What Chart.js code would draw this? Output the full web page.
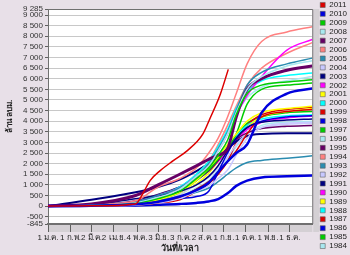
<!DOCTYPE html>
<html>
<head>
<meta charset="utf-8">
<script src="https://cdn.jsdelivr.net/npm/chart.js"></script>
<style>
html, body { margin: 0; padding: 0; background: #E8E0E8; }
#myChart { display: block; }
</style>
</head>
<body>
<canvas id="myChart" width="350" height="255"></canvas>
<script>
// day of year for each sample
var days = [0, 60, 121, 152, 182, 205, 222, 235, 248, 260, 275, 295, 330, 365];
var days_2011 = [0, 60, 121, 131, 141, 155, 173, 192, 214, 224, 238, 249];

// cumulative volume, million m3
var v2011 = [0, 10, 100, 590, 1200, 1670, 2140, 2600, 3400, 4150, 5270, 6440];
var v2010 = [0, 20, 80, 200, 450, 750, 1100, 1600, 2100, 2500, 2900, 4400, 5300, 5540];
var v2009 = [0, 30, 120, 350, 700, 1300, 1800, 2400, 3100, 4300, 5300, 5700, 5850, 5950];
var v2008 = [0, 40, 150, 400, 800, 1400, 1900, 2600, 3400, 4400, 5500, 6100, 6600, 6850];
var v2007 = [0, 100, 500, 1000, 1500, 1900, 2200, 2400, 2700, 4200, 5500, 6000, 6400, 6600];
var v2006 = [0, 60, 250, 900, 1300, 1800, 2500, 3200, 4200, 5300, 6700, 7750, 8200, 8450];
var v2005 = [0, 50, 200, 500, 850, 1400, 2000, 2700, 3500, 4500, 5700, 6300, 6700, 6970];
var v2004 = [0, 10, 40, 150, 350, 700, 950, 1300, 1700, 2400, 3200, 3700, 3900, 3950];
var v2003 = [0, 80, 350, 500, 700, 1000, 1400, 1900, 2600, 3200, 3700, 3950, 4050, 4100];
var v2002 = [0, 40, 200, 500, 850, 1400, 1900, 2600, 3400, 4300, 5200, 6100, 7350, 7850];
var v2001 = [0, 20, 100, 300, 650, 1200, 1800, 2300, 2900, 3400, 4000, 4400, 4600, 4700];
var v2000 = [0, 50, 200, 500, 900, 1500, 2100, 2800, 3600, 4600, 5400, 5900, 6150, 6270];
var v1999 = [0, 10, 60, 200, 400, 800, 1150, 1600, 2100, 2600, 3400, 4200, 4450, 4550];
var v1998 = [0, 20, 80, 200, 350, 450, 700, 1600, 2500, 3200, 3700, 4000, 4200, 4250];
var v1997 = [0, 20, 100, 300, 650, 1200, 1700, 2200, 2700, 3400, 4800, 5500, 5700, 5800];
var v1996 = [0, 30, 150, 400, 750, 1300, 1900, 2600, 3400, 4300, 5100, 5600, 5900, 6100];
var v1995 = [0, 50, 250, 550, 900, 1250, 1650, 2150, 2750, 3150, 3450, 3650, 3760, 3800];
var v1994 = [0, 30, 150, 450, 850, 1500, 2100, 2900, 3800, 4700, 5700, 6500, 7200, 7700];
var v1993 = [0, 20, 100, 250, 450, 650, 850, 1150, 1500, 1800, 2050, 2150, 2250, 2370];
var v1992 = [0, 20, 100, 300, 550, 1000, 1350, 1800, 2300, 2900, 3400, 3700, 3850, 3900];
var v1991 = [0, 300, 650, 900, 1250, 1650, 2000, 2300, 2700, 3050, 3300, 3400, 3430, 3430];
var v1990 = [0, 20, 120, 350, 700, 1200, 1650, 2100, 2600, 3100, 3600, 3950, 4150, 4240];
var v1989 = [0, 10, 80, 250, 550, 1050, 1550, 2100, 2600, 3100, 3700, 4200, 4450, 4600];
var v1988 = [0, 30, 200, 550, 900, 1450, 1900, 2400, 2850, 3300, 3800, 4100, 4250, 4300];
var v1987 = [0, 10, 50, 150, 300, 700, 1050, 1500, 2100, 3000, 3800, 4300, 4550, 4650];
var v1986 = [0, 10, 30, 60, 100, 150, 220, 330, 600, 950, 1200, 1350, 1400, 1440];
var v1985 = [0, 30, 150, 450, 850, 1300, 1750, 2200, 2750, 3300, 3900, 4200, 4400, 4450];
var v1984 = [0, 10, 50, 200, 450, 850, 1200, 1700, 2200, 2800, 3400, 3800, 3950, 4000];

var years = ['2011','2010','2009','2008','2007','2006','2005','2004','2003','2002','2001','2000','1999','1998',
             '1997','1996','1995','1994','1993','1992','1991','1990','1989','1988','1987','1986','1985','1984'];
var arr_values = [v2011, v2010, v2009, v2008, v2007, v2006, v2005, v2004, v2003, v2002, v2001, v2000, v1999, v1998,
                  v1997, v1996, v1995, v1994, v1993, v1992, v1991, v1990, v1989, v1988, v1987, v1986, v1985, v1984];

// x tick positions (day of year) and their labels
var x_ticks = [0, 31, 60, 91, 123, 153, 183, 213, 243, 273, 304, 334];
var x_labels = ['1 ม.ค.', '1 ก.พ.', '2 มี.ค.', '2 เม.ย.', '4 พ.ค.', '3 มิ.ย.', '3 ก.ค.', '2 ส.ค.', '1 ก.ย.', '1 ต.ค.', '1 พ.ย.', '1 ธ.ค.'];
var y_ticks = [-845, -500, 0, 500, 1000, 1500, 2000, 2500, 3000, 3500, 4000, 4500, 5000, 5500, 6000, 6500, 7000, 7500, 8000, 8500, 9000, 9285];

var palette = ['#DD0000', '#0000DD', '#00CC00', '#A8E8F0', '#660066', '#FF8080',
               '#2A8CB0', '#C8C8FF', '#000080', '#FF00FF', '#FFFF00', '#00FFFF'];
var thick = {'2010': 2.5, '2007': 3, '1986': 2.5, '1991': 2};

var font_family = "Tahoma, 'Liberation Sans', 'DejaVu Sans', sans-serif";

function fmt_num(v) {
    return v.toString().replace(/\B(?=(\d{3})+(?!\d))/g, ' ');
}

var datasets = [];
for (var i = 0; i < years.length; i++) {
    var xs = (years[i] === '2011') ? days_2011 : days;
    var pts = [];
    for (var j = 0; j < xs.length; j++) {
        pts.push({x: xs[j], y: arr_values[i][j]});
    }
    var col = palette[i % palette.length];
    datasets.push({
        label: years[i],
        data: pts,
        borderColor: col,
        backgroundColor: col,
        borderWidth: thick[years[i]] || 1.5,
        pointRadius: 0,
        cubicInterpolationMode: 'monotone',
        fill: false
    });
}

var plotFrame = {
    id: 'plotFrame',
    beforeDraw: function(chart) {
        var c = chart.ctx, a = chart.chartArea;
        c.save();
        c.fillStyle = '#FFFFFF';
        c.fillRect(a.left, a.top, a.right - a.left, a.bottom - a.top);
        // scroll strips
        c.fillStyle = '#D4D0D4';
        c.fillRect(a.right + 1, a.top, 6, a.bottom - a.top + 8);
        c.fillRect(a.left, a.bottom + 1, a.right - a.left, 7);
        c.restore();
    },
    afterDraw: function(chart) {
        var c = chart.ctx, a = chart.chartArea;
        c.save();
        c.strokeStyle = '#707070';
        c.lineWidth = 1;
        c.beginPath();
        c.moveTo(a.left, a.top + 0.5);
        c.lineTo(a.right + 0.5, a.top + 0.5);
        c.lineTo(a.right + 0.5, a.bottom);
        c.stroke();
        c.restore();
    }
};

var ctx = document.getElementById('myChart').getContext('2d');
var myChart = new Chart(ctx, {
    type: 'line',
    data: { datasets: datasets },
    plugins: [plotFrame],
    options: {
        responsive: false,
        animation: false,
        layout: { padding: { top: 0, right: -7, bottom: 0, left: 0 } },
        plugins: {
            legend: {
                display: true,
                position: 'right',
                align: 'start',
                labels: {
                    boxWidth: 5,
                    boxHeight: 5,
                    padding: 0.93,
                    color: '#222',
                    font: { family: font_family, size: 8 },
                    generateLabels: function(chart) {
                        var items = Chart.defaults.plugins.legend.labels.generateLabels(chart);
                        items.forEach(function(it) {
                            it.strokeStyle = '#606060';
                            it.lineWidth = 0.6;
                        });
                        return items;
                    }
                },
                onClick: function() { return true; }
            },
            tooltip: { enabled: false }
        },
        scales: {
            x: {
                type: 'linear',
                min: 0,
                max: 365,
                afterBuildTicks: function(scale) {
                    scale.ticks = x_ticks.map(function(v) { return {value: v}; });
                },
                afterFit: function(scale) { scale.height = 31; },
                ticks: {
                    autoSkip: false,
                    maxRotation: 0,
                    padding: 1,
                    color: '#222',
                    font: { family: font_family, size: 8 },
                    callback: function(v) {
                        var k = x_ticks.indexOf(v);
                        return k >= 0 ? x_labels[k] : '';
                    }
                },
                grid: { drawOnChartArea: false, drawTicks: true, tickLength: 8, color: '#606060' },
                border: { display: true, color: '#707070', width: 2 },
                title: {
                    display: true,
                    text: 'วันที่/เวลา',
                    color: '#222',
                    font: { family: font_family, size: 9, weight: 'bold' },
                    padding: { top: 0, bottom: 1 }
                }
            },
            y: {
                type: 'linear',
                min: -845,
                max: 9285,
                afterBuildTicks: function(scale) {
                    scale.ticks = y_ticks.map(function(v) { return {value: v}; });
                },
                afterFit: function(scale) { scale.width = 48; },
                ticks: {
                    autoSkip: false,
                    padding: 2,
                    color: '#333',
                    font: { family: font_family, size: 8, lineHeight: 1.75 },
                    callback: function(v) { return fmt_num(v); }
                },
                grid: { color: '#C8C8C8', tickLength: 3, tickColor: '#606060' },
                border: { display: true, color: '#707070', width: 1 },
                title: {
                    display: true,
                    text: 'ล้าน ลบม.',
                    color: '#222',
                    font: { family: font_family, size: 8, weight: 'bold' },
                    padding: { top: 5, bottom: 0 }
                }
            },
            yR: {
                type: 'linear',
                position: 'right',
                display: true,
                afterFit: function(scale) { scale.width = 7; },
                ticks: { display: false },
                grid: { display: false },
                border: { display: false }
            }
        }
    }
});
</script>
</body>
</html>
